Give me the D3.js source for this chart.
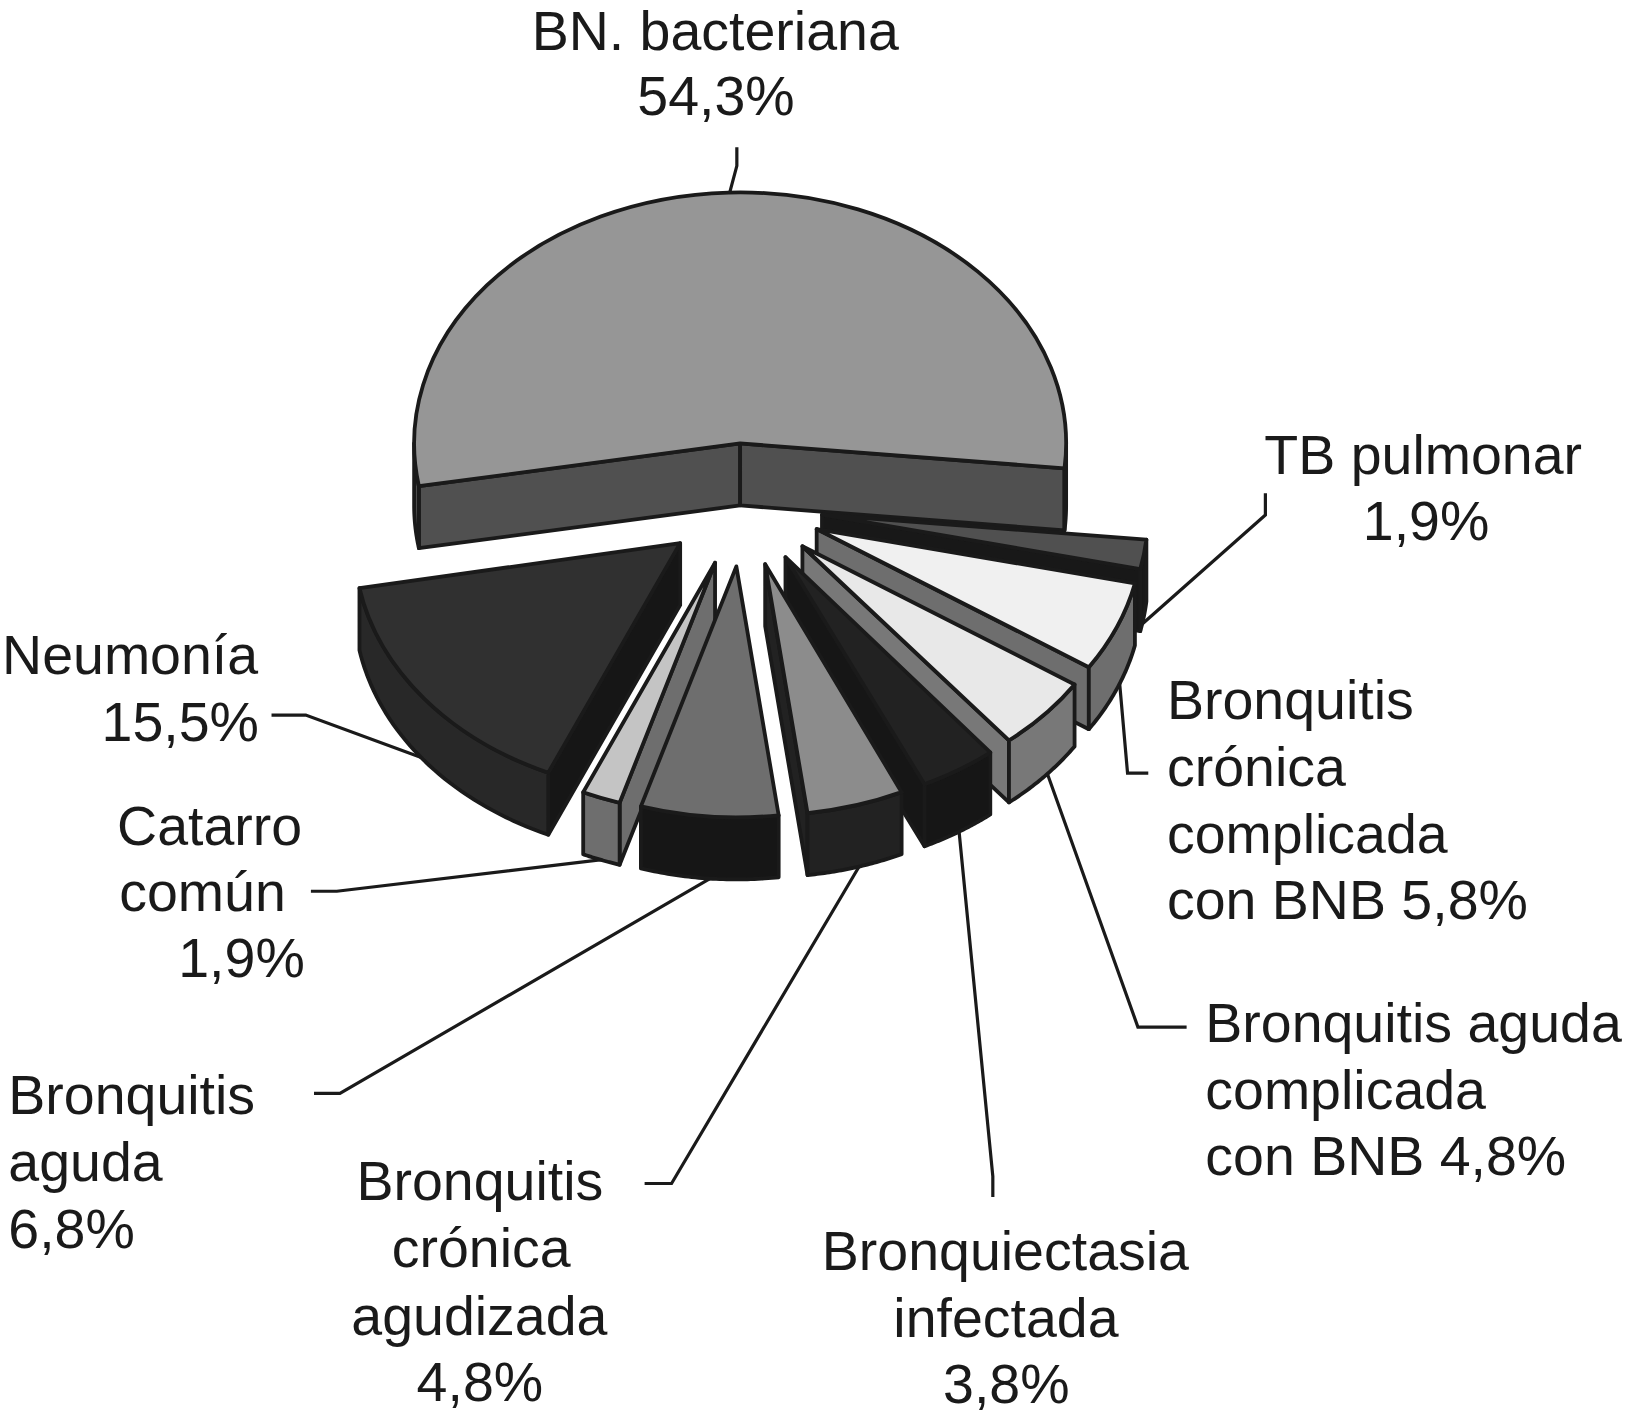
<!DOCTYPE html>
<html>
<head>
<meta charset="utf-8">
<script src="https://cdn.jsdelivr.net/npm/d3@7"></script>
<style>
    body { margin: 0; background: #fff; }
    text { font-family: "Liberation Sans", Arial, sans-serif; fill: #1a1a1a; }
</style>
</head>
<body>
<div id="canvas"></div>
<script>
"use strict";

/* Data, clockwise starting from the big slice */
let categories = [
    "BN. bacteriana",
    "TB pulmonar",
    "Bronquitis crónica complicada con BNB",
    "Bronquitis aguda complicada con BNB",
    "Bronquiectasia infectada",
    "Bronquitis crónica agudizada",
    "Bronquitis aguda",
    "Catarro común",
    "Neumonía"
];
let values = [54.3, 1.9, 5.8, 4.8, 3.8, 4.8, 6.8, 1.9, 15.5];

// {v} is replaced by the value of the slice
let labelLines = [
    ["BN. bacteriana", "{v}"],
    ["TB pulmonar", "{v}"],
    ["Bronquitis", "crónica", "complicada", "con BNB {v}"],
    ["Bronquitis aguda", "complicada", "con BNB {v}"],
    ["Bronquiectasia", "infectada", "{v}"],
    ["Bronquitis", "crónica", "agudizada", "{v}"],
    ["Bronquitis", "aguda", "{v}"],
    ["Catarro", "común", "{v}"],
    ["Neumonía", "{v}"]
];

/* Styles and layout */
let svgWidth = 1625;
let svgHeight = 1422;
let s = 1625 / 1568; // label layout was measured on the shrunk picture

let topColors =  ["#969696", "#505050", "#f0f0f0", "#e8e8e8", "#222222", "#8c8c8c", "#6e6e6e", "#c4c4c4", "#303030"];
let wallColors = ["#505050", "#181818", "#6e6e6e", "#787878", "#161616", "#222222", "#161616", "#6e6e6e", "#282828"];
let sideColors = ["#505050", "#181818", "#6e6e6e", "#787878", "#161616", "#222222", "#161616", "#6e6e6e", "#161616"];

// back to front
let drawOrder = [0, 1, 2, 3, 4, 5, 8, 7, 6];

let centerX = 743;
let centerY = 505;
let radius = 326;
let tilt = 0.77;      // vertical squash of the disc
let depth = 62;       // wall height
let explode = 80;     // every slice is pulled out by the same distance
let strokeColor = "#1a1a1a";
let strokeWidth = 3.8;

// left x of each line, baseline of each line (shrunk picture px)
let labelX = [
    [513, 615], [1220, 1315], [1126, 1126, 1126, 1126], [1163, 1163, 1163],
    [793, 862, 910], [344, 378, 339, 402], [8, 8, 8], [113, 115, 172], [2, 98]
];
let labelY = [
    [48.5, 111], [457, 521], [694, 758, 823, 887], [1005, 1070, 1134],
    [1225, 1290, 1354], [1158, 1223, 1288, 1352], [1075, 1140, 1204], [815, 879, 943], [650, 715]
];

// leader lines, same px as above, the inner ends run under the pie
let leaders = [
    [[711, 142], [711, 160], [703, 190]],
    [[1221, 476], [1221, 497], [1100, 604]],
    [[1108, 746], [1088, 746], [1080, 655]],
    [[1145, 991], [1098, 991], [1009, 742]],
    [[958, 1155], [958, 1135], [925, 798]],
    [[622, 1142], [648, 1142], [832, 831]],
    [[303, 1055], [328, 1055], [695, 842]],
    [[300, 860], [325, 860], [585, 829]],
    [[262, 690], [295, 690], [415, 734]]
];

let svg = d3.select("#canvas")
    .append("svg")
    .attr("width", svgWidth)
    .attr("height", svgHeight)
    .style("display", "block");

// The printed percentages add up to 99.6, so 1% is kept at 3.6 degrees and the
// leftover is shared out as small gaps between the lower slices, as in the picture
let deg = Math.PI / 180;
let startDeg = -99.8;
let sliceShift = [0, 0, 0, 0, 0.4, 0.9, 0.9, 0.9, 0.9];
let pie = d3.pie()
    .sort(null)
    .startAngle(startDeg * deg)
    .endAngle((startDeg + d3.sum(values) * 3.6) * deg);
let slices = pie(values);
slices.forEach(function(d, i) {
    d.startAngle += sliceShift[i] * deg;
    d.endAngle += sliceShift[i] * deg;
});

let arc = d3.arc().innerRadius(0).outerRadius(radius);
let line = d3.line();

// leaders go under the pie
svg.append("g").selectAll("path")
    .data(leaders)
    .join("path")
    .attr("d", function(d) {
        return line(d.map(function(p) { return [p[0] * s, p[1] * s]; }));
    })
    .attr("fill", "none")
    .attr("stroke", strokeColor)
    .attr("stroke-width", 3.2);

// Point on the disc of a slice, angle clockwise from top, h = drop below the top face
function discPoint(a, r, h) {
    return [r * Math.sin(a), -r * Math.cos(a) * tilt + h];
}

function drawSlice(i) {
    let d = slices[i];
    let mid = (d.startAngle + d.endAngle) / 2;
    let off = discPoint(mid, explode, 0);
    let g = svg.append("g")
        .attr("transform", "translate(" + (centerX + off[0]) + "," + (centerY + off[1]) + ")")
        .attr("stroke", strokeColor)
        .attr("stroke-width", strokeWidth)
        .attr("stroke-linejoin", "round");

    // Radial walls, only the ones that face the viewer
    [[d.startAngle, d.startAngle - Math.PI / 2], [d.endAngle, d.endAngle + Math.PI / 2]].forEach(function(e) {
        if (-Math.cos(e[1]) > 0) {
            g.append("path")
                .attr("d", line([
                    discPoint(e[0], 0, 0),
                    discPoint(e[0], radius, 0),
                    discPoint(e[0], radius, depth),
                    discPoint(e[0], 0, depth)
                ]) + "Z")
                .attr("fill", sideColors[i]);
        }
    });

    // Outer wall, the part of the rim on the near half of the disc
    [0, 2 * Math.PI].forEach(function(turn) {
        let lo = Math.max(d.startAngle + turn, Math.PI / 2);
        let hi = Math.min(d.endAngle + turn, 3 * Math.PI / 2);
        if (lo < hi) {
            let steps = d3.range(0, 41).map(function(t) { return lo + (hi - lo) * t / 40; });
            let rim = steps.map(function(a) { return discPoint(a, radius, 0); })
                .concat(steps.slice().reverse().map(function(a) { return discPoint(a, radius, depth); }));
            g.append("path")
                .attr("d", line(rim) + "Z")
                .attr("fill", wallColors[i]);
        }
    });

    // Top face
    g.append("path")
        .attr("d", arc(d))
        .attr("transform", "scale(1," + tilt + ")")
        .attr("vector-effect", "non-scaling-stroke")
        .attr("fill", topColors[i]);
}

drawOrder.forEach(drawSlice);

// Labels
labelLines.forEach(function(lines, i) {
    let valueText = String(values[i]).replace(".", ",") + "%";
    lines.forEach(function(t, j) {
        svg.append("text")
            .attr("x", labelX[i][j] * s)
            .attr("y", labelY[i][j] * s)
            .style("font-size", "55.5px")
            .text(t.replace("{v}", valueText));
    });
});
</script>
</body>
</html>
